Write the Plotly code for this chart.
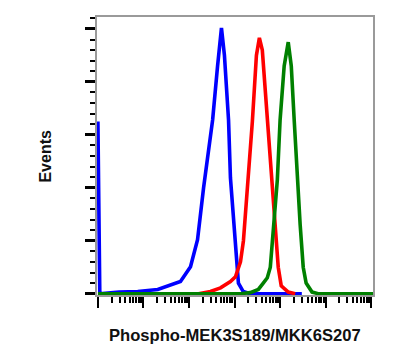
import plotly.graph_objects as go

# Fluorescence intensity (linear units, plotted on log axis) and event counts (axis units)
blue_x = [1, 1.1, 2.9, 7.5, 20.6, 39.5, 65, 108, 154, 209, 269, 330, 424, 516, 600, 738, 812, 997, 1217, 1550, 2220, 30000]
blue_y = [3.25, 0.0, 0.03, 0.04, 0.08, 0.17, 0.23, 0.51, 1.02, 2.0, 2.66, 3.28, 4.3, 5.02, 4.5, 3.28, 2.19, 1.15, 0.2, 0.04, 0.0, 0.0]

red_x = [162, 296, 492, 812, 1047, 1350, 1567, 1820, 2000, 2460, 3020, 3510, 4070, 5240, 6430, 7850, 9110, 10600, 15100, 21500]
red_y = [0.0, 0.04, 0.11, 0.23, 0.32, 0.6, 1.0, 1.7, 2.15, 3.25, 4.5, 4.83, 4.6, 3.28, 2.15, 1.1, 0.5, 0.15, 0.03, 0.0]

green_x = [1, 1350, 2220, 3330, 4270, 5240, 6100, 7460, 8700, 10000, 12300, 15100, 17600, 20400, 23900, 27600, 32200, 37300, 50300, 68500, 1.1e6]
green_y = [0.0, 0.0, 0.02, 0.08, 0.2, 0.3, 0.5, 1.4, 2.15, 3.28, 4.3, 4.75, 4.3, 3.28, 2.15, 1.3, 0.5, 0.2, 0.03, 0.0, 0.0]

x_major = [1, 10, 100, 1000, 10000, 100000, 1000000]
x_minor = [m * d for d in x_major[:-1] for m in range(2, 10)]
y_major = [0, 1, 2, 3, 4, 5]
y_minor = [round(i * 0.2, 1) for i in range(0, 27) if i % 5 != 0]

fig = go.Figure()
for xs, ys, col in [(blue_x, blue_y, "#0000FF"), (red_x, red_y, "#FF0000"), (green_x, green_y, "#008000")]:
    fig.add_trace(go.Scatter(x=xs, y=ys, mode="lines", line=dict(color=col, width=3.6),
                             showlegend=False, hoverinfo="skip"))

fig.update_layout(
    width=408, height=351,
    margin=dict(l=97, r=35, t=17, b=56),
    paper_bgcolor="white", plot_bgcolor="white",
    font=dict(family="Liberation Sans, Arial, sans-serif", color="black"),
)
fig.update_xaxes(
    type="log", range=[-0.02, 6.04],
    showgrid=False, zeroline=False,
    showline=True, linecolor="#9a9a9a", linewidth=1.5, mirror=True,
    tickmode="array", tickvals=x_major, showticklabels=False,
    ticks="outside", ticklen=11, tickwidth=2, tickcolor="black",
    minor=dict(tickmode="array", tickvals=x_minor, ticks="outside", ticklen=6, tickwidth=1.5, tickcolor="black"),
)
fig.update_yaxes(
    range=[-0.025, 5.225],
    showgrid=False, zeroline=False,
    showline=True, linecolor="#9a9a9a", linewidth=1.5, mirror=True,
    tickmode="array", tickvals=y_major, showticklabels=False,
    ticks="outside", ticklen=10, tickwidth=2.5, tickcolor="black",
    minor=dict(tickmode="array", tickvals=y_minor, ticks="outside", ticklen=5, tickwidth=1.5, tickcolor="black"),
)
fig.add_annotation(text="<b>Events</b>", xref="paper", yref="paper", x=-0.19, y=0.5,
                   textangle=-90, showarrow=False, font=dict(size=16, color="#111"),
                   xanchor="center", yanchor="middle")
fig.add_annotation(text="<b>Phospho-MEK3S189/MKK6S207</b>", xref="paper", yref="paper", x=0.5, y=-0.145,
                   showarrow=False, font=dict(size=16.6, color="#111"),
                   xanchor="center", yanchor="middle")

fig.write_html("out.html")
